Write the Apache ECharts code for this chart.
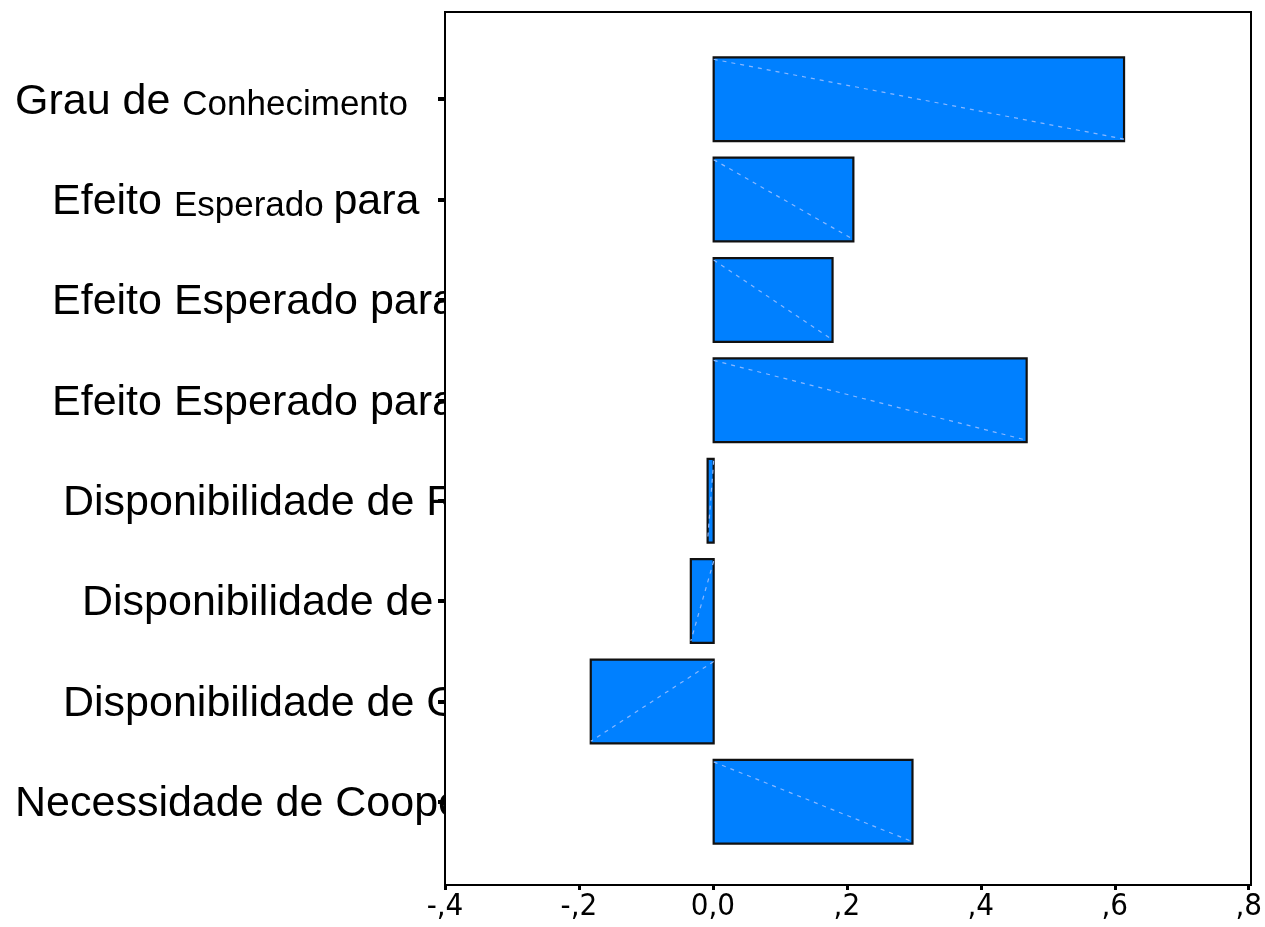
<!DOCTYPE html>
<html>
<head>
<meta charset="utf-8">
<script src="https://cdn.jsdelivr.net/npm/echarts@6/dist/echarts.min.js"></script>
<style>html,body{margin:0;padding:0;background:#fff}#c{width:1265px;height:927px}</style>
</head>
<body>
<div id="c"></div>
<script>
// Category labels (as visible in the reference, truncated by the plot frame)
const categories = [
  "Grau de Conhecimento",
  "Efeito Esperado para",
  "Efeito Esperado para",
  "Efeito Esperado para",
  "Disponibilidade de R",
  "Disponibilidade de",
  "Disponibilidade de G",
  "Necessidade de Coope"
];
// Bar values
const values = [0.611, 0.208, 0.177, 0.466, -0.009, -0.034, -0.183, 0.296];
// X tick labels
const xTickValues = [-0.4, -0.2, 0.0, 0.2, 0.4, 0.6, 0.8];
const xTickLabels = ["-,4", "-,2", "0,0", ",2", ",4", ",6", ",8"];

// label typography (style only)
const labelSegments = [
  [["L","Grau de "],["S","Conhecimento"]],
  [["L","Efeito "],["S","Esperado "],["L","para"]],
  null, null, null, null, null, null
];
const labelIndent = [0, 37, 37, 37, 48, 67, 48, 0];

const chart = echarts.init(document.getElementById('c'), null, {renderer: 'canvas'});

const FONT = "'Liberation Sans', Arial, sans-serif";

function catLabel(value, idx) {
  const segs = labelSegments[idx] || [["L", value]];
  let s = '';
  const ind = labelIndent[idx];
  if (ind > 0) s += '{i' + ind + '|}';
  segs.forEach(function (p) { s += '{' + p[0] + '|' + p[1] + '}'; });
  return s;
}
const rich = {
  L: {fontSize: 43, fontFamily: FONT, color: '#000', verticalAlign: 'bottom', lineHeight: 48},
  S: {fontSize: 35, fontFamily: FONT, color: '#000', verticalAlign: 'bottom', lineHeight: 45}
};
labelIndent.forEach(function (w) { if (w > 0) rich['i' + w] = {width: w, height: 10}; });

const plotLeft = 445, plotRight = 14, plotTop = 12, plotBottom = 42;

const option = {
  backgroundColor: '#ffffff',
  animation: false,
  grid: [
    {left: plotLeft, right: plotRight, top: plotTop, bottom: plotBottom, show: false},
    {left: plotLeft, right: plotRight, top: 49, bottom: 75, show: false}
  ],
  xAxis: [
    {
      gridIndex: 0, type: 'value', min: -0.4, max: 0.8, interval: 0.2,
      axisLine: {show: false, onZero: false},
      axisTick: {show: true, length: 5, lineStyle: {color: '#000', width: 3}},
      splitLine: {show: false},
      axisLabel: {
        margin: 6,
        fontSize: 31,
        fontFamily: "'Liberation Sans Narrow', 'DejaVu Sans Condensed', 'Liberation Sans', sans-serif",
        color: '#000',
        formatter: function (v) {
          for (let i = 0; i < xTickValues.length; i++) {
            if (Math.abs(xTickValues[i] - v) < 1e-9) return xTickLabels[i];
          }
          return '';
        }
      }
    },
    {gridIndex: 1, type: 'value', min: -0.4, max: 0.8, interval: 0.2, show: false}
  ],
  yAxis: [
    {gridIndex: 0, type: 'value', show: false},
    {
      gridIndex: 1, type: 'category', data: categories, inverse: true,
      axisLine: {show: false, onZero: false},
      axisTick: {show: true, alignWithLabel: true, length: 7, lineStyle: {color: '#000', width: 4}},
      axisLabel: {
        align: 'left',
        margin: plotLeft - 15,
        formatter: catLabel,
        rich: rich
      }
    }
  ],
  graphic: [
    {type: 'rect', z: 50, silent: true,
     shape: {x: plotLeft, y: plotTop, width: 70, height: 927 - plotTop - plotBottom},
     style: {fill: '#ffffff'}},
    {type: 'rect', z: 200, silent: true,
     shape: {x: plotLeft, y: plotTop, width: 1265 - plotLeft - plotRight, height: 927 - plotTop - plotBottom},
     style: {fill: 'none', stroke: '#000', lineWidth: 2}}
  ],
  series: [{
    type: 'custom',
    xAxisIndex: 1, yAxisIndex: 1, z: 100,
    data: values.map(function (v, i) { return [v, i]; }),
    renderItem: function (params, api) {
      const v = api.value(0), c = api.value(1);
      const p0 = api.coord([0, c]);
      const p1 = api.coord([v, c]);
      const h = api.size([0, 1])[1] * 0.835;
      const x = Math.min(p0[0], p1[0]);
      const w = Math.abs(p1[0] - p0[0]);
      const top = p0[1] - h / 2, bot = p0[1] + h / 2;
      return {
        type: 'group',
        children: [
          {type: 'rect', shape: {x: x, y: top, width: w, height: h},
           style: {fill: '#0080ff', stroke: '#111', lineWidth: 2.2}},
          {type: 'line', shape: {x1: p0[0], y1: top + 2, x2: p1[0], y2: bot - 2},
           style: {stroke: '#8ab8ff', lineWidth: 1.2, lineDash: [4, 5]}}
        ]
      };
    }
  }]
};
chart.setOption(option);
</script>
</body>
</html>
